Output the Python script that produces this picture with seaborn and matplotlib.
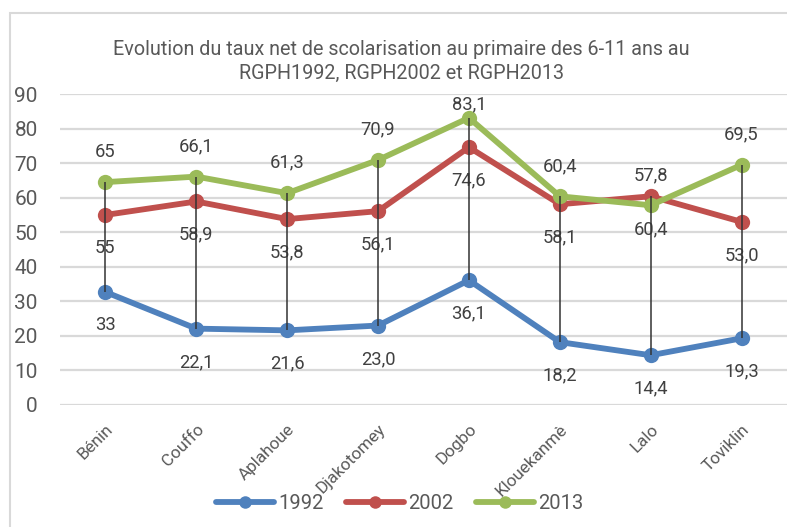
import pandas as pd
import matplotlib.pyplot as plt
import matplotlib.patches as patches
import seaborn as sns

# Communes (Couffo) and net enrolment rates per census
communes = ["Bénin", "Couffo", "Aplahoue", "Djakotomey", "Dogbo",
            "Klouekanmè", "Lalo", "Toviklin"]
years = ["1992", "2002", "2013"]
taux_1992 = [32.7, 22.1, 21.6, 23.0, 36.1, 18.2, 14.4, 19.3]
taux_2002 = [55.0, 58.9, 53.8, 56.1, 74.6, 58.1, 60.4, 53.0]
taux_2013 = [64.5, 66.1, 61.3, 70.9, 83.1, 60.4, 57.8, 69.5]

# data labels as they appear on the chart
lab_1992 = ["33", "22,1", "21,6", "23,0", "36,1", "18,2", "14,4", "19,3"]
lab_2002 = ["55", "58,9", "53,8", "56,1", "74,6", "58,1", "60,4", "53,0"]
lab_2013 = ["65", "66,1", "61,3", "70,9", "83,1", "60,4", "57,8", "69,5"]

colors = ["#4F81BD", "#C0504D", "#9BBB59"]
grey = "#595959"

sns.set_theme(style="white")
plt.rcParams['font.family'] = ['Roboto', 'DejaVu Sans']

df = pd.DataFrame({
    'pos': list(range(len(communes))) * 3,
    'taux': taux_1992 + taux_2002 + taux_2013,
    'annee': [y for y in years for _ in communes],
})

fig = plt.figure(figsize=(7.87, 5.27), dpi=100)
ax = fig.add_axes([0.0762, 0.2315, 0.9238, 0.5901])

sns.lineplot(data=df, x='pos', y='taux', hue='annee', palette=colors,
             marker='o', markersize=11, markeredgewidth=0, linewidth=4.2,
             ax=ax, legend=True)

# high-low lines
lows = [min(v) for v in zip(taux_1992, taux_2002, taux_2013)]
highs = [max(v) for v in zip(taux_1992, taux_2002, taux_2013)]
ax.vlines(range(len(communes)), lows, highs, color="#333333", lw=1.1, zorder=5)

# data labels (labels above are kept inside the plot area, like Excel does)
for i in range(len(communes)):
    ax.text(i, min(taux_2013[i] + 8.8, 87.0), lab_2013[i],
            ha='center', va='center', fontsize=13.2, color="#404040")
    ax.annotate(lab_2002[i], (i, taux_2002[i]), xytext=(0, -24), textcoords='offset points',
                ha='center', va='center', fontsize=13.2, color="#404040")
    ax.annotate(lab_1992[i], (i, taux_1992[i]), xytext=(0, -24), textcoords='offset points',
                ha='center', va='center', fontsize=13.2, color="#404040")

ax.set_xlim(-0.5, len(communes) - 0.5)
ax.set_ylim(0, 90)
ax.set_yticks(range(0, 91, 10))
ax.set_xticks(range(len(communes)))
ax.set_xticklabels(communes, rotation=45, ha='right', rotation_mode='anchor',
                   fontsize=12.3, color=grey)
ax.tick_params(axis='y', labelsize=15, labelcolor=grey, length=0, pad=16)
ax.tick_params(axis='x', length=0, pad=12)
ax.yaxis.grid(True, color="#D9D9D9", lw=1.6)
ax.set_axisbelow(True)
for s in ['top', 'right', 'left', 'bottom']:
    ax.spines[s].set_visible(False)
ax.set_xlabel("")
ax.set_ylabel("")

ax.set_title("Evolution du taux net de scolarisation au primaire des 6-11 ans au\n"
             "RGPH1992, RGPH2002 et RGPH2013",
             fontsize=14.2, color=grey, pad=11, linespacing=1.3, x=0.47)

handles, labels = ax.get_legend_handles_labels()
for h in handles:
    h.set_markersize(9)
fig.legend(handles, labels, loc='center', bbox_to_anchor=(0.508, 0.045),
           ncol=3, frameon=False, fontsize=14.5, handlelength=2.9,
           handletextpad=0.2, columnspacing=1.1, labelcolor=grey)
ax.get_legend().remove()

# chart frame
fig.patches.append(patches.Rectangle((0.0127, -0.1), 1.2, 1.0753, transform=fig.transFigure,
                                     fill=False, ec="#D9D9D9", lw=1.5))

plt.savefig("out.png", dpi=100)
